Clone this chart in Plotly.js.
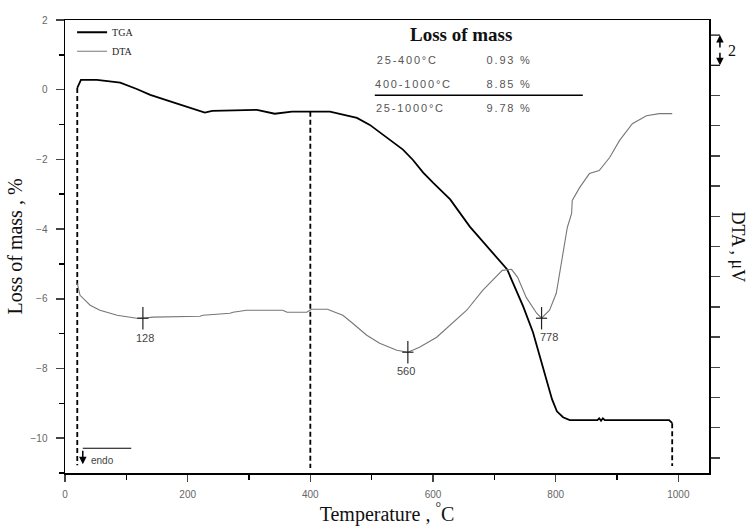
<!DOCTYPE html>
<html>
<head>
<meta charset="utf-8">
<script src="https://cdn.plot.ly/plotly-3.0.1.min.js"></script>
<style>html,body{margin:0;padding:0;background:#fff;}</style>
</head>
<body>
<div id="chart" style="width:748px;height:528px;"></div>
<script>
// ---- data ----
const tgaT = [20, 24.5, 26, 52, 90, 117, 139, 179, 220, 228, 240, 313, 342, 370, 432, 465, 476, 497, 514, 530, 551, 567, 584, 600, 616, 628, 660, 693, 709, 721, 730, 747, 763, 779, 794, 802, 812, 823, 868, 871, 874, 877, 880, 985, 990];
const tgaMass = [0.05, 0.2, 0.28, 0.28, 0.2, 0.02, -0.15, -0.38, -0.63, -0.66, -0.61, -0.58, -0.69, -0.63, -0.63, -0.75, -0.81, -1.01, -1.24, -1.44, -1.72, -2.01, -2.38, -2.67, -2.95, -3.15, -3.93, -4.59, -4.93, -5.16, -5.53, -6.22, -6.96, -7.94, -8.88, -9.23, -9.4, -9.48, -9.48, -9.43, -9.5, -9.43, -9.48, -9.48, -9.57];

const dtaT = [20, 24.5, 41, 57, 85, 117, 127, 143, 220, 225, 269, 274, 296, 355, 362, 394, 402, 428, 436, 453, 469, 492, 513, 541, 559, 578, 606, 627, 655, 681, 704, 713, 728, 738, 752, 769, 777, 790, 801, 811, 819, 826, 827, 839, 855, 871, 888, 904, 925, 948, 969, 990];
const dtaSignal = [11.56, 10.77, 10.11, 9.78, 9.45, 9.25, 9.25, 9.32, 9.38, 9.45, 9.58, 9.65, 9.78, 9.78, 9.65, 9.65, 9.84, 9.84, 9.71, 9.45, 8.92, 8.12, 7.59, 7.13, 7.0, 7.33, 7.99, 8.78, 9.78, 11.1, 12.09, 12.42, 12.49, 11.96, 10.63, 9.58, 9.25, 9.78, 10.9, 13.28, 15.26, 16.19, 17.05, 17.9, 18.83, 19.03, 19.89, 21.01, 22.13, 22.66, 22.8, 22.8];

const peakT = [127, 559, 777];
const peakSignal = [9.25, 7.0, 9.25];
const peakLabels = ['128', '560', '778'];

const dropT = [20, 400, 990];
const dropTop = [0.05, -0.63, -9.57];
const dropBottom = [-10.78, -10.86, -10.8];

const xTickVals = [0, 200, 400, 600, 800, 1000];
const yTickVals = [-10, -8, -6, -4, -2, 0, 2];
const dtaTickVals = [0, 2, 4, 6, 8, 10, 12, 14, 16, 18, 20, 22, 24];

const lossTitle = 'Loss of mass';
const lossRanges = ['25-400°C', '400-1000°C', '25-1000°C'];
const lossValues = ['0.93 %', '8.85 %', '9.78 %'];

// ---- traces ----
const traces = [
  {x: tgaT, y: tgaMass, name: 'TGA', type: 'scatter', mode: 'lines',
   line: {color: '#000', width: 1.8}, yaxis: 'y'},
  {x: dtaT, y: dtaSignal, name: 'DTA', type: 'scatter', mode: 'lines',
   line: {color: '#777', width: 1.1}, yaxis: 'y2'},
  {x: peakT, y: peakSignal, type: 'scatter', mode: 'markers', yaxis: 'y2', showlegend: false,
   hoverinfo: 'skip', marker: {symbol: 'line-ns-open', size: 16, color: '#222', line: {color: '#222', width: 1.2}}},
  {x: peakT, y: peakSignal, type: 'scatter', mode: 'markers', yaxis: 'y2', showlegend: false,
   hoverinfo: 'skip', marker: {symbol: 'line-ew-open', size: 8, color: '#222', line: {color: '#222', width: 1.2}}}
];
dropT.forEach((t, i) => {
  traces.push({x: [t, t], y: [dropTop[i], dropBottom[i]], type: 'scatter', mode: 'lines',
    showlegend: false, hoverinfo: 'skip', yaxis: 'y',
    line: {color: '#000', width: 1.8, dash: '5px,3px'}});
});

// ---- annotations ----
const serif = 'Liberation Serif, Times New Roman, serif';
const sans = 'Liberation Sans, Arial, sans-serif';
const annotations = [];
const labelShift = [[2, -20], [-2, -19], [7, -19]];
peakT.forEach((t, i) => {
  annotations.push({x: t, y: peakSignal[i], xref: 'x', yref: 'y2', text: peakLabels[i],
    xanchor: 'center', yanchor: 'middle',
    showarrow: false, xshift: labelShift[i][0], yshift: labelShift[i][1],
    font: {family: sans, size: 11, color: '#444'}});
});
annotations.push({x: 0.615, y: 0.967, xref: 'paper', yref: 'paper', text: '<b>' + lossTitle + '</b>',
  xanchor: 'center', yanchor: 'middle',
  showarrow: false, font: {family: serif, size: 19, color: '#111'}});
const rowY = [0.912, 0.859, 0.806];
lossRanges.forEach((r, i) => {
  annotations.push({x: 0.492, y: rowY[i], xref: 'paper', yref: 'paper', text: r, xanchor: 'left', yanchor: 'middle',
    showarrow: false, font: {family: sans, size: 11, color: '#555'}});
  annotations.push({x: 0.66, y: rowY[i], xref: 'paper', yref: 'paper', text: lossValues[i], xanchor: 'left', yanchor: 'middle',
    showarrow: false, font: {family: sans, size: 11, color: '#555'}});
});
// right axis title
annotations.push({x: 1.0, y: 0.5, xref: 'paper', yref: 'paper', xshift: 29, text: 'DTA , μV',
  xanchor: 'center', yanchor: 'middle',
  textangle: 90, showarrow: false, font: {family: serif, size: 18, color: '#111'}});
// scale bracket label and arrows
annotations.push({x: 1.0, y: 27, xref: 'paper', yref: 'y2', xshift: 23, text: '2',
  xanchor: 'center', yanchor: 'middle',
  showarrow: false, font: {family: serif, size: 16, color: '#111'}});
annotations.push({x: 1.017, y: 28, xref: 'paper', yref: 'y2', ax: 0, ay: 14, text: '',
  showarrow: true, arrowhead: 2, arrowsize: 1, arrowwidth: 1.5, arrowcolor: '#000'});
annotations.push({x: 1.017, y: 26, xref: 'paper', yref: 'y2', ax: 0, ay: -14, text: '',
  showarrow: true, arrowhead: 2, arrowsize: 1, arrowwidth: 1.5, arrowcolor: '#000'});
// endo arrow
annotations.push({x: 29, y: -10.75, xref: 'x', yref: 'y', ax: 0, ay: -15, text: '',
  showarrow: true, arrowhead: 2, arrowsize: 1, arrowwidth: 1.5, arrowcolor: '#000'});
annotations.push({x: 61, y: -10.63, xref: 'x', yref: 'y', text: 'endo', xanchor: 'center', yanchor: 'middle',
  showarrow: false, font: {family: sans, size: 10, color: '#444'}});

const shapes = [
  {type: 'line', xref: 'paper', yref: 'paper', x0: 0.481, x1: 0.804, y0: 0.834, y1: 0.834,
   line: {color: '#000', width: 1.5}},
  {type: 'line', xref: 'paper', yref: 'y2', x0: 1.0, x1: 1.017, y0: 28, y1: 28, line: {color: '#000', width: 1.2}},
  {type: 'line', xref: 'paper', yref: 'y2', x0: 1.0, x1: 1.017, y0: 26, y1: 26, line: {color: '#000', width: 1.2}},
  {type: 'line', xref: 'x', yref: 'y', x0: 29, x1: 108, y0: -10.29, y1: -10.29, line: {color: '#000', width: 1.2}}
];

const layout = {
  width: 748, height: 528,
  margin: {l: 65, r: 39, t: 20, b: 55},
  paper_bgcolor: '#fff', plot_bgcolor: '#fff',
  showlegend: true,
  legend: {x: 0.011, y: 1.005, xanchor: 'left', yanchor: 'top', bgcolor: 'rgba(0,0,0,0)',
    font: {family: serif, size: 10, color: '#222'}, tracegroupgap: 0},
  xaxis: {range: [0, 1050], tickmode: 'array', tickvals: xTickVals, ticks: 'outside', ticklen: 7, tickwidth: 1.5,
    minor: {dtick: 100, tick0: 0, ticks: 'outside', ticklen: 5, tickwidth: 1.5, tickcolor: '#000'},
    showline: true, linewidth: 1.5, linecolor: '#000', mirror: true, showgrid: false, zeroline: false,
    tickfont: {family: sans, size: 10, color: '#666'}, ticklabelstandoff: 4,
    title: {text: 'Temperature , <sup>°</sup>C', font: {family: serif, size: 20, color: '#111'}, standoff: 8}},
  yaxis: {range: [-11, 2], tickmode: 'array', tickvals: yTickVals, ticks: 'outside', ticklen: 8, tickwidth: 1.5,
    minor: {dtick: 1, tick0: 0, ticks: 'outside', ticklen: 5, tickwidth: 1.5, tickcolor: '#000'},
    showline: true, linewidth: 1.5, linecolor: '#000', showgrid: false, zeroline: false,
    tickfont: {family: sans, size: 10, color: '#666'}, ticklabelstandoff: 6,
    title: {text: 'Loss of mass , %', font: {family: serif, size: 20, color: '#111'}, standoff: 2}},
  yaxis2: {overlaying: 'y', side: 'right', anchor: 'x', range: [-1, 29], tickmode: 'array', tickvals: dtaTickVals,
    ticks: 'outside', ticklen: 9, tickwidth: 1.5, showticklabels: false,
    showline: true, linewidth: 1.5, linecolor: '#000', showgrid: false, zeroline: false},
  annotations: annotations,
  shapes: shapes
};

Plotly.newPlot('chart', traces, layout, {displayModeBar: false, staticPlot: true}).then(function () {
  // the reference table text is widely letter-spaced
  const spaced = lossRanges.concat(lossValues);
  document.querySelectorAll('#chart .annotation-text').forEach(function (el) {
    if (spaced.indexOf(el.textContent) !== -1) el.style.letterSpacing = '1.8px';
  });
});
</script>
</body>
</html>
